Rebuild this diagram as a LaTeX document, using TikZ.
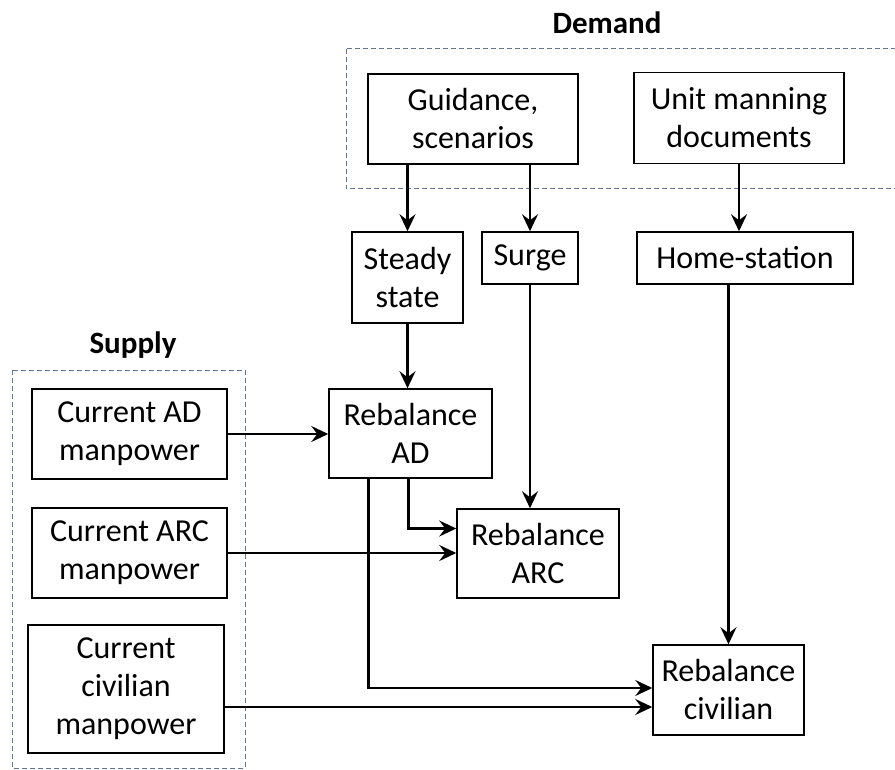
\documentclass[tikz,border=0pt]{standalone}
\usepackage{fontspec}
\setmainfont{Carlito}
\usetikzlibrary{arrows.meta}
\definecolor{groupblue}{RGB}{95,115,155}
\begin{document}
\begin{tikzpicture}[
        x=1pt, y=-1pt,
        box/.style={
            rectangle,
            draw,
            line width=1.5pt,
            align=center,
            inner sep=0pt,
            font=\fontsize{32}{38}\selectfont,
            anchor=center
        },
        group/.style={
            draw=groupblue,
            dash pattern=on 5pt off 3pt,
            line width=1pt
        },
        title/.style={
            font=\fontsize{31}{36}\selectfont\bfseries
        },
        arr/.style={
            line width=2.4pt,
            -{Stealth[length=17pt, width=16pt, inset=6pt]}
        }
    ]

    % (0,0) at left top corner, pixel units
    \useasboundingbox (0,0) rectangle (895,770);

    % --- dashed groups ---
    \draw[group] (346,49) rectangle (905,189);
    \draw[group] (12,370) rectangle (245,768);
    \node[title] (demand) at (607,23) {Demand};
    \node[title] (supply) at (133,345) {Supply};

    % --- demand side ---
    \node[box, minimum width=210, minimum height=90] (guid) at (473,119) {Guidance,\\scenarios};
    \node[box, minimum width=210, minimum height=91] (unit) at (739,118) {Unit manning\\documents};
    \node[box, minimum width=111, minimum height=91] (steady) at (407.5,277.5) {Steady\\state};
    \node[box, minimum width=96, minimum height=52] (surge) at (530,258) {Surge};
    \node[box, minimum width=216, minimum height=52] (home) at (745,258) {Home-station};

    % --- supply side ---
    \node[box, minimum width=195, minimum height=90] (cad) at (129.5,434) {Current AD\\manpower};
    \node[box, minimum width=195, minimum height=90] (carc) at (129.5,553) {Current ARC\\manpower};
    \node[box, minimum width=196, minimum height=128] (cciv) at (126,689) {Current\\civilian\\manpower};

    % --- rebalance steps ---
    \node[box, minimum width=163, minimum height=89] (radc) at (410.5,433.5) {Rebalance\\AD};
    \node[box, minimum width=162, minimum height=89] (rarc) at (538,553.5) {Rebalance\\ARC};
    \node[box, minimum width=151, minimum height=90] (rciv) at (728.5,690) {Rebalance\\civilian};

    % --- arrows ---
    \draw[arr] (steady.north |- guid.south) -- (steady.north);
    \draw[arr] (surge.north |- guid.south) -- (surge.north);
    \draw[arr] (unit.south) -- (unit.south |- home.north);
    \draw[arr] (steady.south) -- (steady.south |- radc.north);
    \draw[arr] (cad.east) -- (cad.east -| radc.west);
    \draw[arr] (surge.south) -- (surge.south |- rarc.north);
    \draw[arr] ([xshift=-2pt]radc.south) |- ([yshift=25pt]rarc.west);
    \draw[arr] (carc.east) -- (carc.east -| rarc.west);
    \draw[arr] (home.south -| rciv.north) -- (rciv.north);
    \draw[arr] ([xshift=-42pt]radc.south) |- ([yshift=2pt]rciv.west);
    \draw[arr] ([yshift=-18pt]cciv.east) -- ([yshift=-18pt]cciv.east -| rciv.west);

\end{tikzpicture}
\end{document}
